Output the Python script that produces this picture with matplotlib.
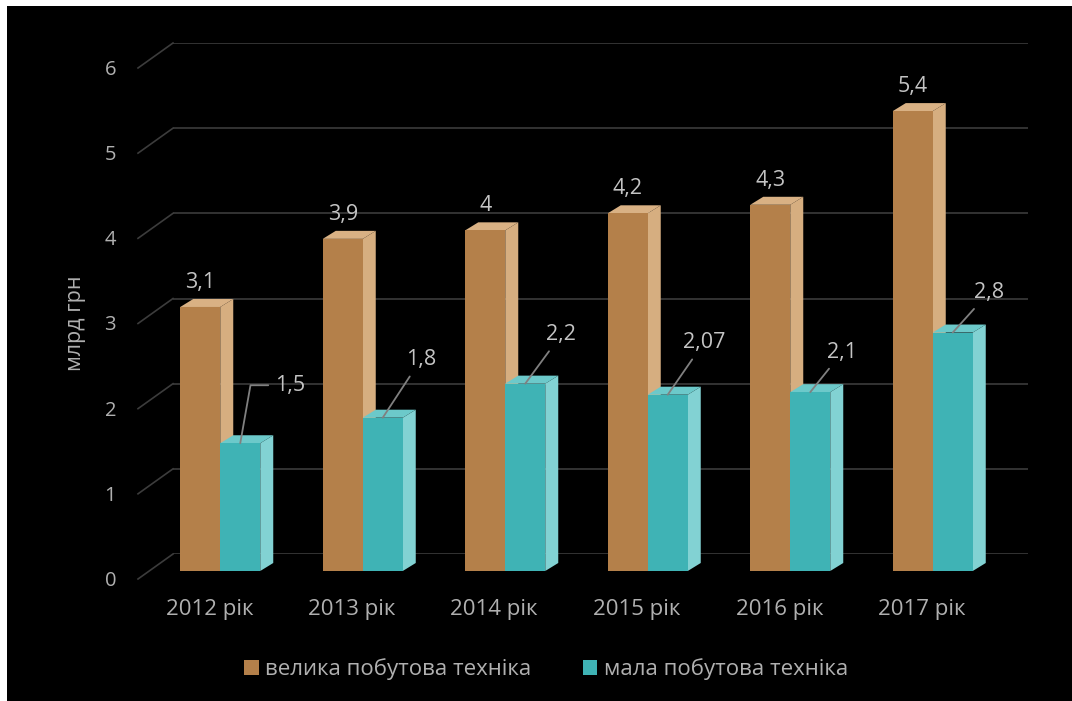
import matplotlib
matplotlib.use('Agg')
import matplotlib.pyplot as plt
import matplotlib.transforms as mtransforms
from matplotlib.patches import Polygon, Rectangle, Patch
import numpy as np

plt.rcParams['font.family'] = ['Open Sans', 'DejaVu Sans']

# Data (млрд грн)
years = ['2012 рік', '2013 рік', '2014 рік', '2015 рік', '2016 рік', '2017 рік']
large_appliances = [3.1, 3.9, 4.0, 4.2, 4.3, 5.4]
small_appliances = [1.5, 1.8, 2.2, 2.07, 2.1, 2.8]
series_names = ['велика побутова техніка', 'мала побутова техніка']
y_ticks = [0, 1, 2, 3, 4, 5, 6]

# Styling
BROWN_FRONT, BROWN_SIDE, BROWN_TOP = '#B4804A', '#D6AE80', '#D9B184'
TEAL_FRONT, TEAL_SIDE, TEAL_TOP = '#3FB3B5', '#82D2D3', '#6CC9CA'
GRID = '#3C3C3C'
TEXT = '#B0B0B0'
LABEL = '#C4C4C4'
LEADER = '#808080'

# leader-line offsets (pixels) for the small-appliance labels
leader_offsets = [(50, 58), (38, 58), (36, 49), (36, 52), (32, 40), (36, 40)]

W, H = 1072, 701
fig = plt.figure(figsize=(W / 100, H / 100), dpi=100, facecolor='white')
fig.add_artist(Rectangle((7 / W, 0), 1, (H - 6) / H, transform=fig.transFigure,
                         facecolor='black', edgecolor='none', zorder=-10))

ax = fig.add_axes([173 / W, 147 / H, 855 / W, 511 / H])
ax.set_xlim(-0.5, 5.5)
ax.set_ylim(0, 6)
ax.axis('off')

px_x = 855 / 6.0   # pixels per x unit
px_y = 511 / 6.0   # pixels per y unit

# bars sit in front of the back wall
front = mtransforms.offset_copy(ax.transData, fig=fig, x=-24, y=-17, units='dots')

w = 40 / px_x
ddx, ddy = 13 / px_x, 8 / px_y

# back wall gridlines + perspective ticks
for v in y_ticks:
    ax.plot([-0.5, 5.5], [v, v], color=GRID, lw=1.2, zorder=1)
    ax.plot([-0.5, -0.5 - 35 / px_x], [v, v - 25 / px_y], color=GRID, lw=1.2,
            clip_on=False, zorder=1)
    ax.text(-0.5, v, str(v), color=TEXT, fontsize=14.5, ha='right', va='center',
            transform=mtransforms.offset_copy(ax.transData, fig=fig, x=-57, y=-27, units='dots'))


def draw_bar(xl, v, c_front, c_side, c_top, z):
    side = [(xl + w, 0), (xl + w + ddx, ddy), (xl + w + ddx, v + ddy), (xl + w, v)]
    top = [(xl, v), (xl + ddx, v + ddy), (xl + w + ddx, v + ddy), (xl + w, v)]
    ax.add_patch(Polygon(side, closed=True, facecolor=c_side, edgecolor='none',
                         transform=front, zorder=z, clip_on=False))
    ax.add_patch(Polygon(top, closed=True, facecolor=c_top, edgecolor='none',
                         transform=front, zorder=z, clip_on=False))


x = np.arange(len(years))
for i in x:
    draw_bar(i - w, large_appliances[i], BROWN_FRONT, BROWN_SIDE, BROWN_TOP, 2)
    draw_bar(i, small_appliances[i], TEAL_FRONT, TEAL_SIDE, TEAL_TOP, 3)

bars_big = ax.bar(x - w / 2, large_appliances, w, color=BROWN_FRONT, zorder=2.5)
bars_small = ax.bar(x + w / 2, small_appliances, w, color=TEAL_FRONT, zorder=3.5)
for b in list(bars_big) + list(bars_small):
    b.set_transform(front)
    b.set_clip_on(False)


def fmt(v):
    return f'{v:g}'.replace('.', ',')


# value labels
above = mtransforms.offset_copy(front, fig=fig, x=0, y=14, units='dots')
for i, v in enumerate(large_appliances):
    ax.text(i - w / 2, v, fmt(v), color=LABEL, fontsize=15.5, ha='center', va='bottom',
            transform=above, zorder=5)

for i, v in enumerate(small_appliances):
    conn = 'angle,angleA=0,angleB=80' if i == 0 else 'arc3'
    ax.annotate(fmt(v), xy=(i + w / 2, v), xycoords=front,
                xytext=leader_offsets[i], textcoords='offset pixels',
                color=LABEL, fontsize=15.5, ha='center', va='center', zorder=5,
                arrowprops=dict(arrowstyle='-', color=LEADER, lw=1.3,
                                shrinkA=3, shrinkB=0, connectionstyle=conn))

# category labels
cat_tr = mtransforms.offset_copy(ax.transData, fig=fig, x=-35, y=-56, units='dots')
for i, lbl in enumerate(years):
    ax.text(i, 0, lbl, color=TEXT, fontsize=16, ha='center', va='center', transform=cat_tr)

fig.text(76 / W, 1 - 323 / H, 'млрд грн', color=TEXT, fontsize=15.5, rotation=90,
         ha='center', va='center')

handles = [Patch(facecolor=BROWN_FRONT), Patch(facecolor=TEAL_FRONT)]
leg = ax.legend(handles, series_names, ncol=2, loc='center',
                bbox_to_anchor=(546 / W, 32 / H), bbox_transform=fig.transFigure,
                frameon=False, fontsize=16, labelcolor=TEXT,
                handlelength=0.65, handleheight=0.65, handletextpad=0.3,
                columnspacing=2.3)

fig.savefig('out.png', dpi=100, facecolor=fig.get_facecolor())
